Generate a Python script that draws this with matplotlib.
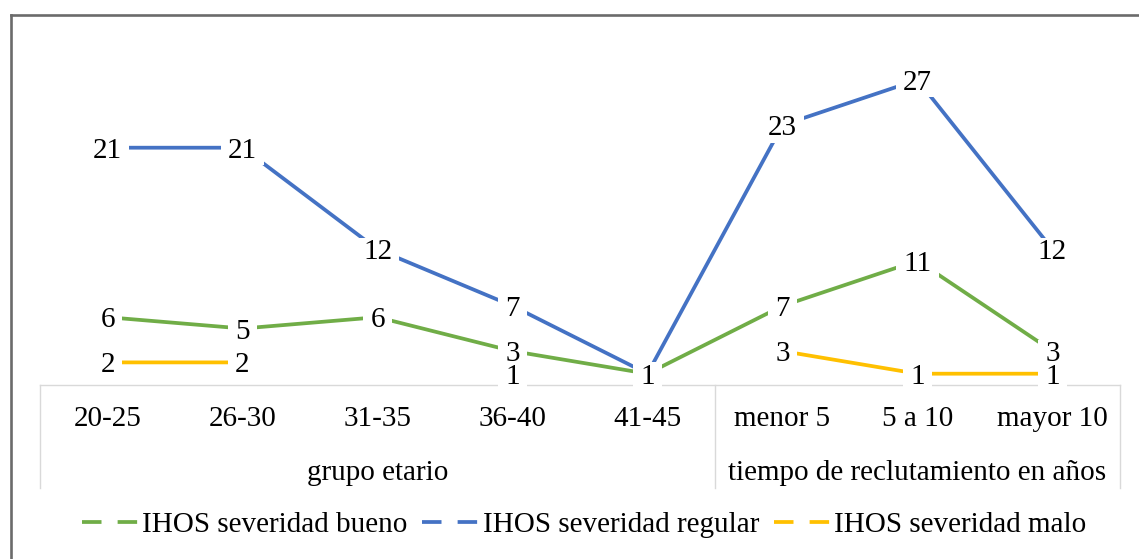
import numpy as np
import matplotlib
matplotlib.use('Agg')
import matplotlib.pyplot as plt
from matplotlib.path import Path
from matplotlib.lines import Line2D

# ---------------- data ----------------
categories = ['20-25', '26-30', '31-35', '36-40', '41-45', 'menor 5', '5 a 10', 'mayor 10']
groups = ['grupo etario', 'tiempo de reclutamiento en años']
group_sizes = [5, 3]
series_names = ['IHOS severidad bueno', 'IHOS severidad regular', 'IHOS severidad malo']
bueno = [6, 5, 6, 3, 1, 7, 11, 3]
regular = [21, 21, 12, 7, 1, 23, 27, 12]
malo = [2, 2, np.nan, 1, np.nan, 3, 1, 1]
colors = ['#70AD47', '#4472C4', '#FFC000']

plt.rcParams['font.family'] = ['Liberation Serif', 'DejaVu Serif']
FS = 21
W, H = 1139, 559

fig = plt.figure(figsize=(W / 100, H / 100), dpi=100)
ax = fig.add_axes([40 / W, 174 / H, 1080 / W, 339 / H])
n = len(categories)
x = np.arange(n)
ax.set_xlim(-0.5, n - 0.5)
ax.set_ylim(0, 30)
ax.axis('off')


def label_box(x0, y0, width, height, mutation_size):
    px = 0.24 * mutation_size
    py = 0.05 * mutation_size
    x0 -= px
    y0 -= py
    x1 = x0 + width + 2 * px
    y1 = y0 + height + 2 * py
    return Path([(x0, y0), (x1, y0), (x1, y1), (x0, y1), (x0, y0)], closed=True)


all_series = [bueno, regular, malo]
for vals, col in zip(all_series, colors):
    ax.plot(x, vals, color=col, lw=2.7, solid_capstyle='butt', zorder=2, clip_on=False)

for vals, col in zip(all_series, colors):
    for xi, v in zip(x, vals):
        if np.isnan(v):
            continue
        ax.annotate(f'{int(v)}', (xi, v), xytext=(0, -2.2), textcoords='offset points',
                    ha='center', va='center', fontsize=FS, color='black', zorder=5,
                    annotation_clip=False,
                    bbox=dict(boxstyle=label_box, fc='white', ec='none'))

# two-level category axis
axis_col = '#D9D9D9'
trans = ax.get_xaxis_transform()
ax.plot([-0.5, n - 0.5], [0, 0], color=axis_col, lw=1.0, zorder=1, clip_on=False)
line_bottom = -103 / 339
bounds = [-0.5]
acc = -0.5
for s in group_sizes:
    acc += s
    bounds.append(acc)
for b in bounds:
    ax.plot([b, b], [0, line_bottom], transform=trans, color=axis_col, lw=1.0,
            zorder=1, clip_on=False)

for xi, c in zip(x, categories):
    ax.text(xi, -34 / 339, c, transform=trans, ha='center', va='center', fontsize=FS)

start = 0
for g, s in zip(groups, group_sizes):
    center = start + (s - 1) / 2
    ax.text(center, -88 / 339, g, transform=trans, ha='center', va='center', fontsize=FS)
    start += s

# legend
handles = [Line2D([], [], color=c, lw=2.7, linestyle=(0, (5.2, 4.3)), dash_capstyle='butt')
           for c in colors]
fig.legend(handles, series_names, loc='center', bbox_to_anchor=(584 / W, 1 - 525 / H),
           ncol=3, frameon=False, fontsize=FS, handlelength=1.93, handletextpad=0.14,
           columnspacing=0.5, borderpad=0, borderaxespad=0)

# outer chart border (right & bottom cropped off)
bcol = '#6B6B6B'
fig.add_artist(Line2D([10.5 / W, 1.01], [1 - 15 / H, 1 - 15 / H], color=bcol, lw=1.9,
                      transform=fig.transFigure))
fig.add_artist(Line2D([10.5 / W, 10.5 / W], [1 - 15 / H, -0.01], color=bcol, lw=1.9,
                      transform=fig.transFigure))

fig.savefig('out.png', dpi=100)
